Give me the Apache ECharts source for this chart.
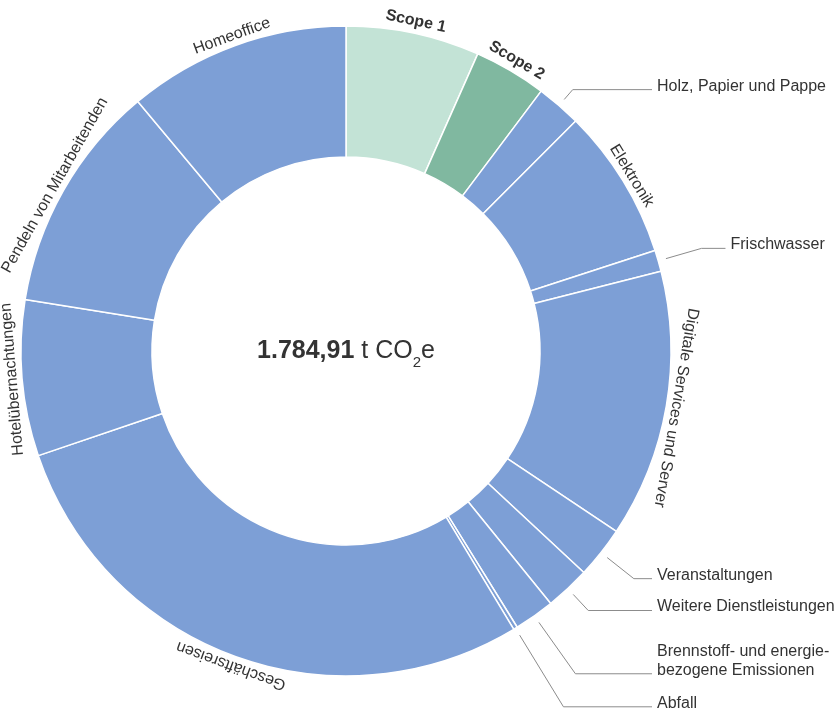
<!DOCTYPE html>
<html><head><meta charset="utf-8">
<script src="https://cdn.jsdelivr.net/npm/echarts@6/dist/echarts.min.js"></script>
<style>html,body{margin:0;padding:0;background:#fff}#c{width:836px;height:710px}</style>
</head><body><div id="c"></div>
<script>
// ---- data ----
const categories = ['Scope 1', 'Scope 2', 'Holz, Papier und Pappe', 'Elektronik', 'Frischwasser',
  'Digitale Services und Server', 'Veranstaltungen', 'Weitere Dienstleistungen',
  'Brennstoff- und energie-\nbezogene Emissionen', 'Abfall', 'Geschäftsreisen',
  'Hotelübernachtungen', 'Pendeln von Mitarbeitenden', 'Homeoffice'];
const emissions = [118.6, 64.4, 40.0, 133.9, 19.0, 237.5, 45.9, 39.7, 35.9, 3.5, 507.2, 138.3, 203.6, 197.5];
const scopeGroup = ['Scope 1', 'Scope 2', 'Scope 3', 'Scope 3', 'Scope 3', 'Scope 3', 'Scope 3', 'Scope 3',
  'Scope 3', 'Scope 3', 'Scope 3', 'Scope 3', 'Scope 3', 'Scope 3'];
const totalValue = 1784.91;
const totalUnit = ['t CO', '2', 'e'];

// ---- layout / style ----
const CX = 346, CY = 351, R_OUT = 325, R_IN = 194;
const LABEL_COL = 657;
const groupColors = { 'Scope 1': '#c3e3d6', 'Scope 2': '#80b8a0', 'Scope 3': '#7d9fd6' };
const labelKind = ['arcBold', 'arcBold', 'leader', 'arc', 'leader', 'arc', 'leader', 'leader', 'leader', 'leader', 'arc', 'arc', 'arc', 'arc'];
const leaderLen = { 'Holz, Papier und Pappe': 13, 'Frischwasser': 37, 'Veranstaltungen': 34,
  'Weitere Dienstleistungen': 22, 'Brennstoff- und energie-\nbezogene Emissionen': 63, 'Abfall': 84 };
const leaderMinH = { 'Frischwasser': 24 };
const FONT = '"Liberation Sans", Arial, sans-serif';

const sum = emissions.reduce((a, b) => a + b, 0);
const midAngles = [];
(function () { let acc = 0; emissions.forEach(v => { midAngles.push((acc + v / 2) / sum * 360); acc += v; }); })();

function fmtDE(v) {
  const parts = v.toFixed(2).split('.');
  return parts[0].replace(/\B(?=(\d{3})+(?!\d))/g, '.') + ',' + parts[1];
}

const data = categories.map((name, i) => {
  const kind = labelKind[i];
  return {
    name: name,
    value: emissions[i],
    itemStyle: { color: groupColors[scopeGroup[i]] },
    label: { fontWeight: kind === 'arcBold' ? 'bold' : 'normal' },
    labelLine: { show: kind === 'leader' }
  };
});

function labelLayout(p) {
  const i = p.dataIndex;
  const th = midAngles[i] * Math.PI / 180;
  const ux = Math.sin(th), uy = -Math.cos(th);
  const kind = labelKind[i];
  if (kind !== 'leader') {
    const r = R_OUT + (kind === 'arcBold' ? 12 : 10);
    return { x: CX + r * ux, y: CY + r * uy, rotate: -midAngles[i], align: 'center', verticalAlign: 'middle' };
  }
  const r0 = R_OUT + 8;
  const sx = CX + r0 * ux, sy = CY + r0 * uy;
  const name = categories[i];
  const len = leaderLen[name];
  const mx = CX + (r0 + len) * ux, my = CY + (r0 + len) * uy;
  const ex = Math.max(LABEL_COL - 5, mx + (leaderMinH[name] || 18));
  return { x: ex + 5, y: my + 6, align: 'left', verticalAlign: 'bottom',
    labelLinePoints: [[sx, sy], [mx, my], [ex, my]] };
}

const chart = echarts.init(document.getElementById('c'), null, { renderer: 'canvas' });
chart.setOption({
  animation: false,
  backgroundColor: '#fff',
  graphic: [{
    type: 'text', x: CX, y: CY,
    style: {
      text: '{b|' + fmtDE(totalValue) + '}{n| ' + totalUnit[0] + '}{s|' + totalUnit[1] + '}{n|' + totalUnit[2] + '}',
      align: 'center', verticalAlign: 'middle',
      rich: {
        b: { fontSize: 25, fontWeight: 'bold', fill: '#333', fontFamily: FONT, lineHeight: 38 },
        n: { fontSize: 25, fill: '#333', fontFamily: FONT, lineHeight: 38 },
        s: { fontSize: 15, fill: '#333', fontFamily: FONT, lineHeight: 10, verticalAlign: 'bottom' }
      }
    }
  }],
  series: [{
    type: 'pie',
    center: [CX, CY],
    radius: [R_IN, R_OUT],
    startAngle: 90,
    clockwise: true,
    avoidLabelOverlap: false,
    itemStyle: { borderColor: '#fff', borderWidth: 1.5 },
    label: { show: true, position: 'outside', fontSize: 16, color: '#333', fontFamily: FONT, overflow: 'none', lineHeight: 19 },
    labelLine: { show: true, length: 10, length2: 10, lineStyle: { color: '#8c8c8c', width: 1 } },
    emphasis: { disabled: true },
    labelLayout: labelLayout,
    data: data
  }]
});
</script>
</body></html>
